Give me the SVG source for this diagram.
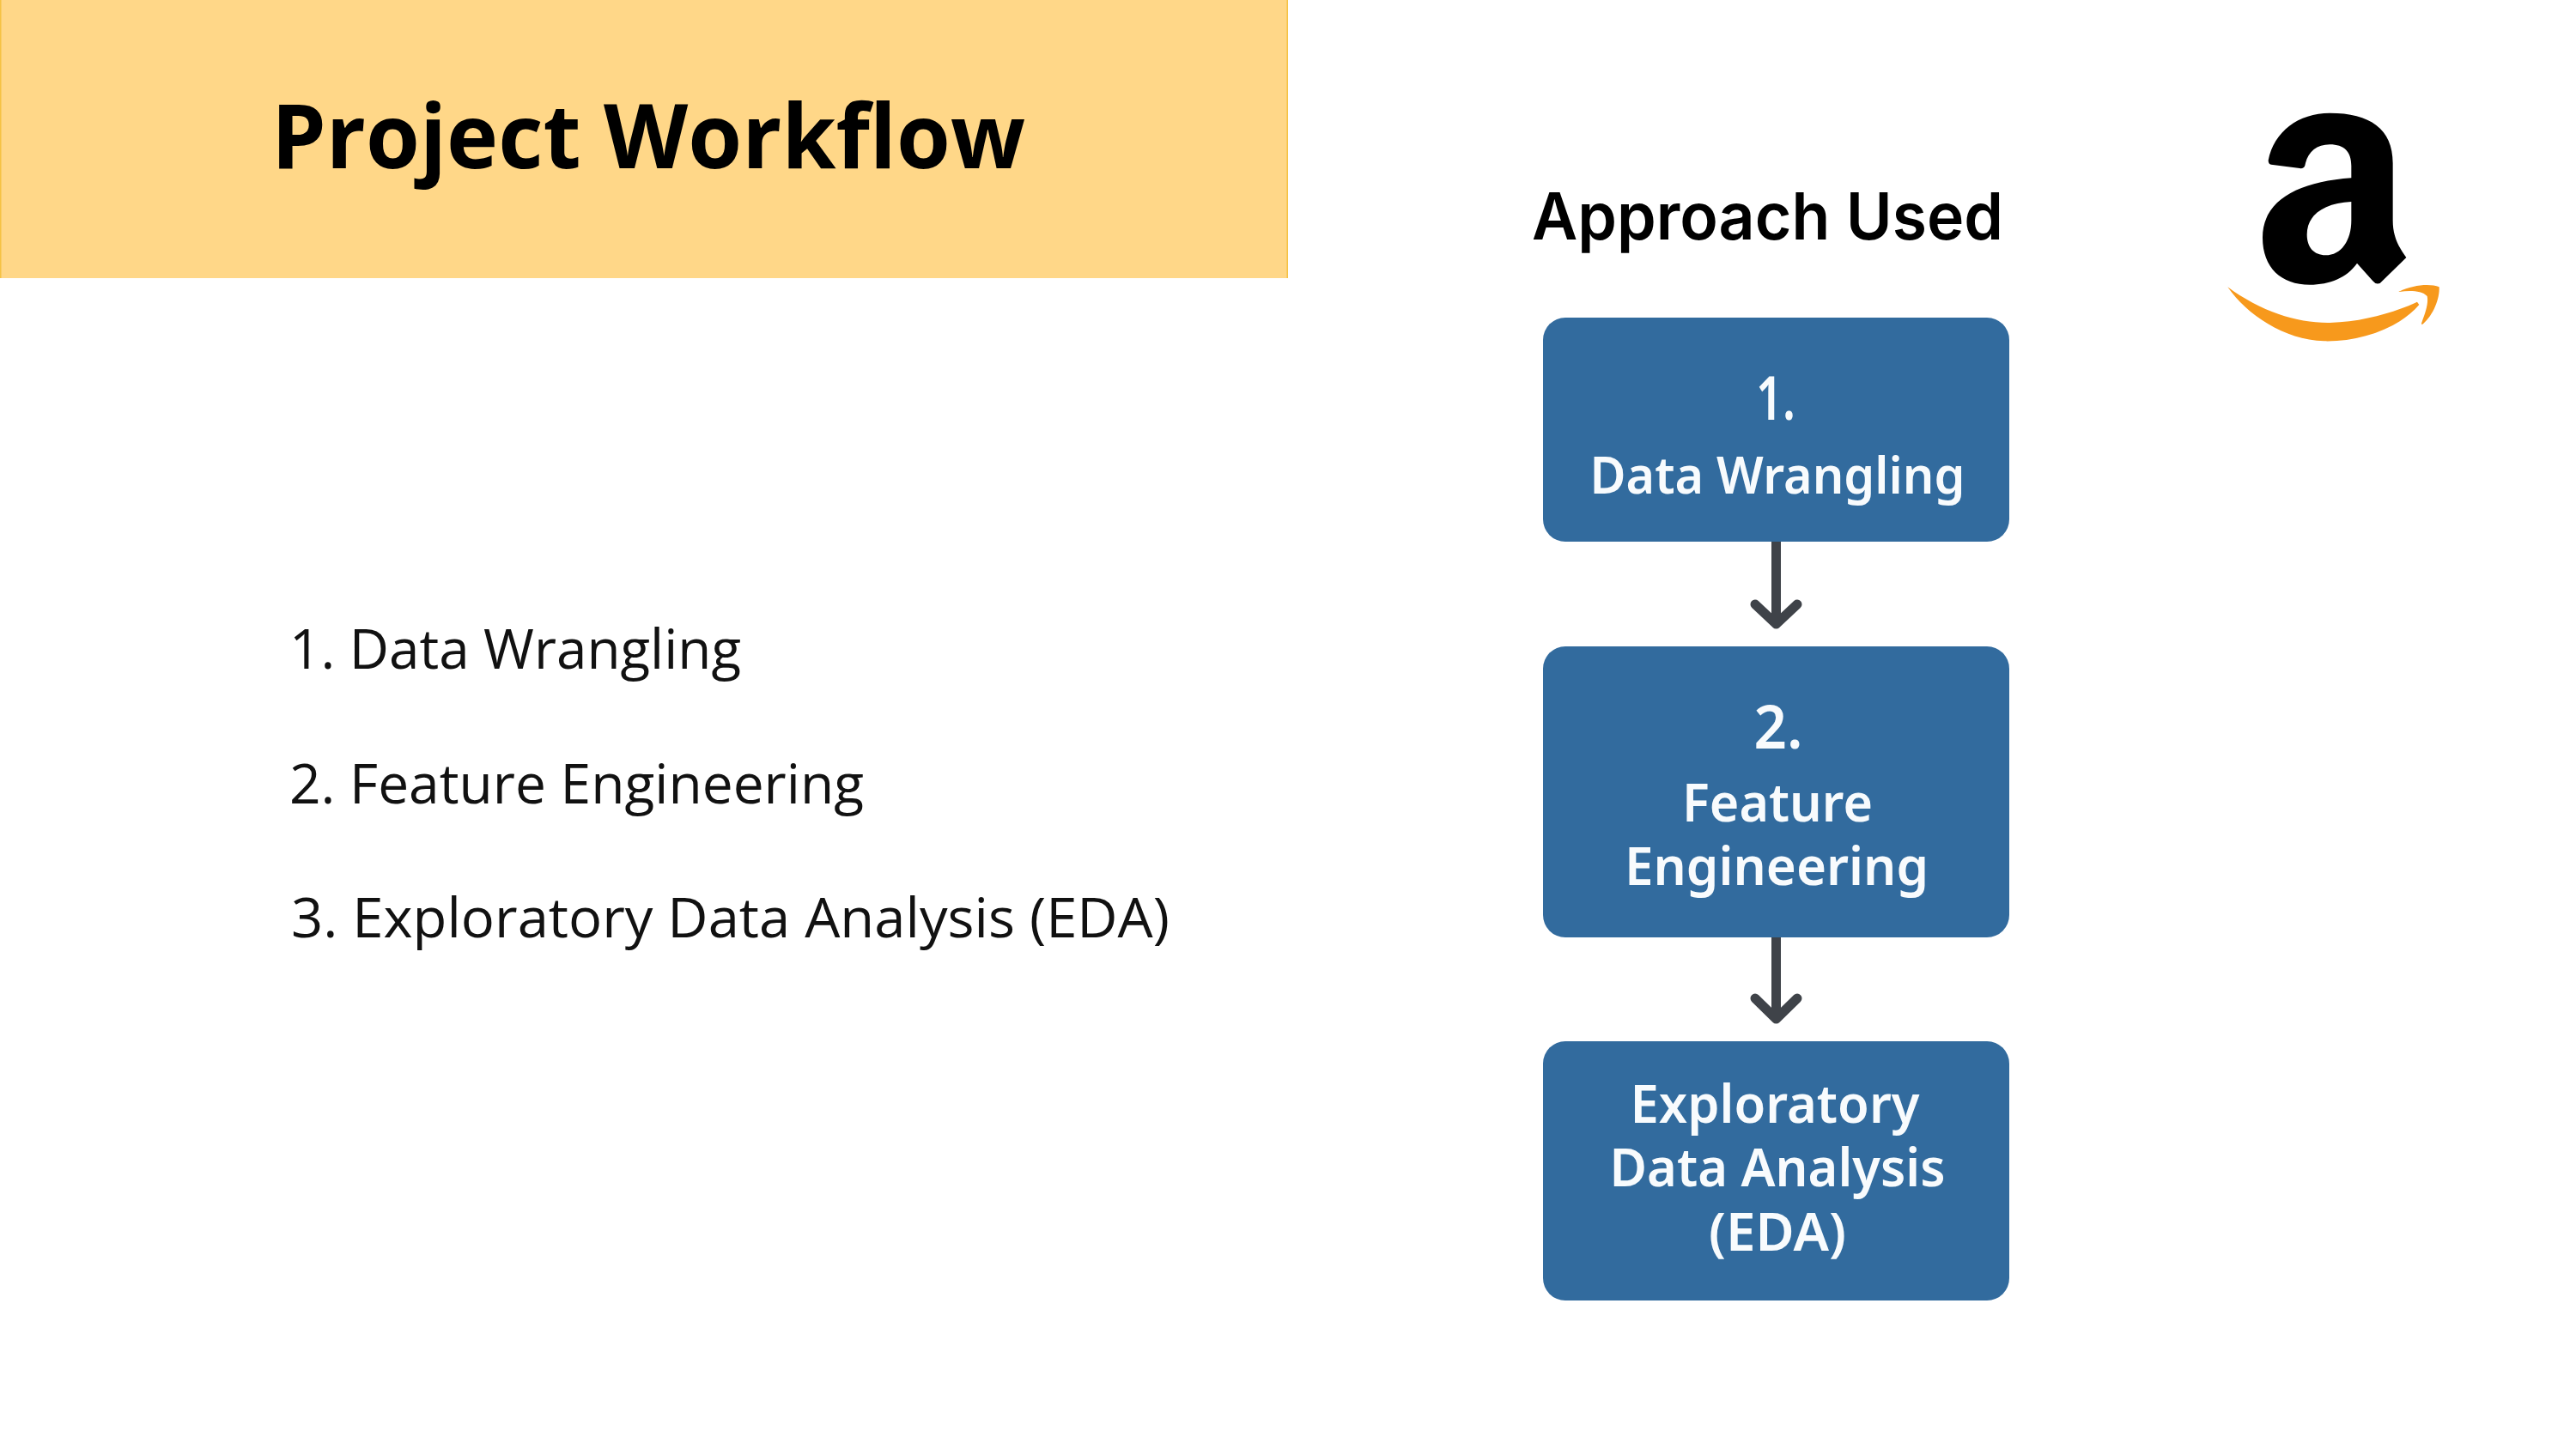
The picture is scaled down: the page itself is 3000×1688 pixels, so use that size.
<svg xmlns="http://www.w3.org/2000/svg" width="3000" height="1688" viewBox="0 0 3000 1688">
<style>
.box{fill:#326b9e}
.lbl{font-family:"Noto Sans","Open Sans",sans-serif;font-weight:600;fill:#f8fbfd;text-anchor:middle}
.lst{font-family:"Open Sans","Noto Sans",sans-serif;font-size:64px;fill:#111}
.arr{fill:none;stroke:#3f4349;stroke-width:11;stroke-linecap:round;stroke-linejoin:round}
</style>
<rect width="3000" height="1688" fill="#fff"/>
<g id="title">
<rect x="0" y="0" width="1500" height="324" fill="#ffd788"/>
<path d="M.75 0V324M1499.25 0V324" stroke="#f6c244" stroke-width="1.5" fill="none"/>
<text x="316" y="196" font-family="'Open Sans','Noto Sans',sans-serif" font-weight="700" font-size="104" fill="#000" textLength="878" lengthAdjust="spacingAndGlyphs">Project Workflow</text>
</g>
<g id="list">
<text class="lst" x="337" y="779" textLength="526" lengthAdjust="spacingAndGlyphs">1. Data Wrangling</text>
<text class="lst" x="337" y="936" textLength="669" lengthAdjust="spacingAndGlyphs">2. Feature Engineering</text>
<text class="lst" x="339" y="1092" textLength="1023" lengthAdjust="spacingAndGlyphs">3. Exploratory Data Analysis (EDA)</text>
</g>
<g id="heading">
<text x="1784" y="279" font-family="Inter,'Noto Sans',sans-serif" font-weight="600" font-size="76" fill="#000" textLength="549" lengthAdjust="spacingAndGlyphs">Approach Used</text>
</g>
<g id="logo" transform="translate(2500 90) scale(.33333)">
<path fill="#000" fill-rule="evenodd" d="M425 290C445 190 530 125 640 125C780 125 860 180 860 300V500C860 550 875 585 907 630L815 720Q800 725 790 712L735 650C700 700 640 725 570 725C470 725 405 665 405 560C405 430 530 365 715 352V310C715 260 690 235 640 235C595 235 565 260 555 300Q552 322 535 318L435 305Q425 303 425 290ZM715 435C620 440 560 480 560 550C560 595 585 622 625 622C680 622 715 570 715 500Z"/>
<path fill="#f7991c" d="M283 733C400 820 530 860 640 858C760 855 870 820 945 785L952 795C880 880 740 925 620 922C480 918 350 830 283 733ZM880 750C930 725 990 720 1022 733C1025 780 995 840 962 865L960 860C975 820 985 790 980 765C960 745 920 745 880 750Z"/>
</g>
<g id="connectors">
<path class="arr" d="M2068.5 631V727M2044 704L2068.5 727L2093 704"/>
<path class="arr" d="M2068.5 1092V1187M2044 1163L2068.5 1187L2093 1163"/>
</g>
<g id="node1">
<rect class="box" x="1797" y="370" width="543" height="261" rx="26"/>
<text class="lbl"><tspan x="2068" y="489" font-size="70" textLength="46" lengthAdjust="spacingAndGlyphs">1.</tspan><tspan x="2070" y="575" font-size="60" textLength="437" lengthAdjust="spacingAndGlyphs">Data Wrangling</tspan></text>
</g>
<g id="node2">
<rect class="box" x="1797" y="753" width="543" height="339" rx="26"/>
<text class="lbl"><tspan x="2071" y="872" font-size="70" textLength="57" lengthAdjust="spacingAndGlyphs">2.</tspan><tspan x="2070" y="957" font-size="62" textLength="222" lengthAdjust="spacingAndGlyphs">Feature</tspan><tspan x="2069" y="1031" font-size="62" textLength="354" lengthAdjust="spacingAndGlyphs">Engineering</tspan></text>
</g>
<g id="node3">
<rect class="box" x="1797" y="1213" width="543" height="302" rx="26"/>
<text class="lbl"><tspan x="2067" y="1308" font-size="62" textLength="337" lengthAdjust="spacingAndGlyphs">Exploratory</tspan><tspan x="2070" y="1382" font-size="62" textLength="391" lengthAdjust="spacingAndGlyphs">Data Analysis</tspan><tspan x="2070" y="1457" font-size="62" textLength="160" lengthAdjust="spacingAndGlyphs">(EDA)</tspan></text>
</g>
</svg>
